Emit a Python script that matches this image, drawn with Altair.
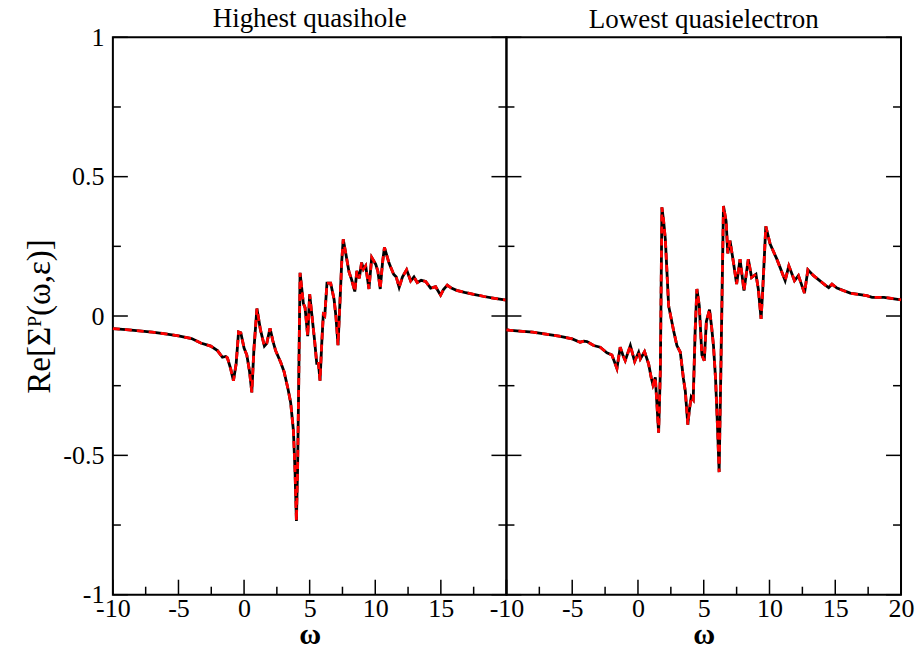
import altair as alt
import pandas as pd

SERIF = "Liberation Serif"

# ---- Highest quasihole (left panel) ----
omega_hole = [-10, -9, -8, -7, -6, -5, -4, -3.3, -2.54, -2.03, -1.65, -1.4, -1.27, -1.02, -0.81,
              -0.6, -0.42, -0.25, 0.0, 0.21, 0.42, 0.59, 0.75, 0.98, 1.25, 1.55, 1.73, 1.98, 2.2,
              2.41, 2.79, 3.05, 3.35, 3.55, 3.76, 3.88, 3.99, 4.08, 4.15, 4.27, 4.35, 4.52, 4.65,
              4.85, 5.0, 5.2, 5.38, 5.54, 5.67, 5.79, 5.92, 6.04, 6.15, 6.32, 6.6, 6.86, 7.0, 7.16,
              7.31, 7.45, 7.56, 7.75, 8.0, 8.2, 8.44, 8.6, 8.78, 8.96, 9.1, 9.27, 9.52, 9.73, 10.03,
              10.2, 10.38, 10.55, 10.7, 11.05, 11.4, 11.6, 11.82, 12.07, 12.39, 12.7, 12.95, 13.2,
              13.5, 13.84, 14.22, 14.6, 14.98, 15.2, 15.49, 15.8, 16.2, 16.8, 17.5, 18.3, 19.1, 20]
sigma_hole_black = [-0.045, -0.049, -0.053, -0.058, -0.064, -0.071, -0.081, -0.097, -0.108, -0.124,
                    -0.148, -0.145, -0.15, -0.19, -0.232, -0.17, -0.057, -0.06, -0.115, -0.14, -0.2,
                    -0.274, -0.12, 0.027, -0.05, -0.108, -0.098, -0.044, -0.09, -0.125, -0.166, -0.2,
                    -0.262, -0.31, -0.41, -0.55, -0.735, -0.55, -0.30, 0.155, 0.12, 0.045, 0.03,
                    -0.072, 0.078, -0.01, -0.09, -0.17, -0.17, -0.232, -0.1, 0.005, 0.0, 0.118, 0.118,
                    0.06, 0.0, -0.105, 0.05, 0.2, 0.275, 0.225, 0.158, 0.13, 0.088, 0.162, 0.135,
                    0.192, 0.168, 0.18, 0.097, 0.21, 0.186, 0.16, 0.097, 0.19, 0.246, 0.19, 0.15,
                    0.14, 0.103, 0.14, 0.166, 0.126, 0.14, 0.12, 0.128, 0.124, 0.10, 0.105, 0.075,
                    0.095, 0.111, 0.1, 0.092, 0.085, 0.078, 0.07, 0.063, 0.057]
sigma_hole_red = list(sigma_hole_black)

# ---- Lowest quasielectron (right panel) ----
omega_elec = [-10, -9, -8, -7, -6, -5, -4.4, -4.1, -3.88, -3.37, -2.87, -2.36, -1.98, -1.6, -1.35,
              -1.15, -0.97, -0.58, -0.25, 0.05, 0.18, 0.5, 0.81, 1.0, 1.14, 1.32, 1.57, 1.7, 1.82,
              1.95, 2.08, 2.33, 2.71, 2.96, 3.22, 3.46, 3.6, 3.79, 3.9, 4.05, 4.2, 4.35, 4.48, 4.66,
              4.86, 5.04, 5.2, 5.44, 5.6, 5.74, 5.9, 6.05, 6.17, 6.3, 6.5, 6.7, 6.83, 7.0, 7.26,
              7.5, 7.76, 8.06, 8.39, 8.64, 8.97, 9.15, 9.36, 9.49, 9.72, 10.05, 10.56, 11.19, 11.47,
              11.9, 12.2, 12.66, 12.92, 13.35, 14.24, 14.5, 14.75, 15.13, 16.14, 17.4, 17.8, 18.7, 20]
sigma_elec_black = [-0.05, -0.054, -0.058, -0.065, -0.072, -0.082, -0.094, -0.09, -0.092, -0.106,
                    -0.112, -0.132, -0.14, -0.188, -0.112, -0.14, -0.16, -0.106, -0.163, -0.13,
                    -0.154, -0.128, -0.172, -0.22, -0.247, -0.22, -0.419, -0.2, 0.39, 0.34, 0.276,
                    0.037, -0.053, -0.106, -0.13, -0.226, -0.27, -0.39, -0.34, -0.29, -0.30, -0.05,
                    0.097, 0.037, -0.14, -0.16, -0.02, 0.023, -0.04, -0.106, -0.226, -0.4, -0.56,
                    -0.2, 0.395, 0.34, 0.225, 0.27, 0.192, 0.115, 0.204, 0.091, 0.204, 0.138, 0.15,
                    0.097, -0.01, 0.097, 0.322, 0.258, 0.204, 0.127, 0.18, 0.127, 0.145, 0.082,
                    0.166, 0.145, 0.111, 0.102, 0.114, 0.1, 0.082, 0.073, 0.067, 0.067, 0.058]
sigma_elec_red = list(sigma_elec_black)

assert len(omega_hole) == len(sigma_hole_black)
assert len(omega_elec) == len(sigma_elec_black)

# ---- axes / ticks ----
x_labels_left = [-10, -5, 0, 5, 10, 15]
x_labels_right = [-10, -5, 0, 5, 10, 15, 20]
x_major = [-10, -5, 0, 5, 10, 15, 20]
x_minor = [-7.5, -2.5, 2.5, 7.5, 12.5, 17.5]
y_labels = [-1, -0.5, 0, 0.5, 1]
y_major = [-1, -0.5, 0, 0.5, 1]
y_minor = [-0.75, -0.25, 0.25, 0.75]

W_LEFT, W_RIGHT, H = 394, 395, 558
MAJ, MIN = 15, 8

X_SCALE = alt.Scale(domain=[-10, 20], nice=False, zero=False)
Y_SCALE = alt.Scale(domain=[-1, 1], nice=False, zero=False)


def panel(omega, black, red, title, xlabels, show_y, width, title_offset):
    d_black = pd.DataFrame({"omega": omega, "sigma": black})
    d_red = pd.DataFrame({"omega": omega, "sigma": red})

    x_axis = alt.Axis(values=xlabels, title="ω", labelExpr="'' + datum.value",
                      ticks=False, tickSize=0, domain=False, grid=False,
                      labelFont=SERIF, labelFontSize=26, labelColor="black",
                      labelPadding=1, labelFlush=False, labelOverlap=False,
                      titleFont=SERIF, titleFontSize=30, titleFontWeight="bold",
                      titleColor="black", titlePadding=-2)
    if show_y:
        y_axis = alt.Axis(values=y_labels, title="Re[Σᴾ(ω,ε)]", labelExpr="'' + datum.value",
                          ticks=False, tickSize=0, domain=False, grid=False,
                          labelFont=SERIF, labelFontSize=26, labelColor="black",
                          labelPadding=9, labelFlush=False, labelOverlap=False,
                          titleFont=SERIF, titleFontSize=33, titleFontWeight="normal",
                          titleColor="black", titlePadding=6)
    else:
        y_axis = None

    def X():
        return alt.X("omega:Q", scale=X_SCALE, axis=x_axis)

    def Y():
        return alt.Y("sigma:Q", scale=Y_SCALE, axis=y_axis)

    line_black = alt.Chart(d_black).mark_line(color="black", strokeWidth=2.8).encode(
        x=X(), y=Y())
    line_red = alt.Chart(d_red).mark_line(color="#ff0000", strokeWidth=2.8,
                                          strokeDash=[7, 5]).encode(x=X(), y=Y())

    layers = [line_black, line_red]
    # bottom ticks (inward)
    for vals, L in ((x_major, MAJ), (x_minor, MIN)):
        layers.append(alt.Chart(pd.DataFrame({"omega": vals})).mark_rule(
            color="black", strokeWidth=1.5).encode(
            x=X(), y=alt.value(H), y2=alt.value(H - L)))
    # left and right ticks (inward)
    for vals, L in ((y_major, MAJ), (y_minor, MIN)):
        dfy = pd.DataFrame({"sigma": vals})
        layers.append(alt.Chart(dfy).mark_rule(color="black", strokeWidth=1.5).encode(
            y=Y(), x=alt.value(0), x2=alt.value(L)))
        layers.append(alt.Chart(dfy).mark_rule(color="black", strokeWidth=1.5).encode(
            y=Y(), x=alt.value(width), x2=alt.value(width - L)))

    return alt.layer(*layers).properties(
        width=width, height=H,
        title=alt.TitleParams(title, font=SERIF, fontSize=27, fontWeight="normal",
                              color="black", anchor="middle", offset=title_offset,
                              frame="group"))


left = panel(omega_hole, sigma_hole_black, sigma_hole_red, "Highest quasihole",
             x_labels_left, True, W_LEFT, -9)
right = panel(omega_elec, sigma_elec_black, sigma_elec_red, "Lowest quasielectron",
              x_labels_right, False, W_RIGHT, 3)

chart = alt.hconcat(left, right, spacing=0, bounds="flush").properties(
    padding={"left": 22, "top": 4, "right": 5, "bottom": 0},
    background="white",
).configure_view(stroke="black", strokeWidth=2).configure_axis(
    labelFont=SERIF, titleFont=SERIF
).configure_title(font=SERIF).configure_concat(spacing=0)

chart.save("out.html", embed_options={"renderer": "svg", "actions": False})
